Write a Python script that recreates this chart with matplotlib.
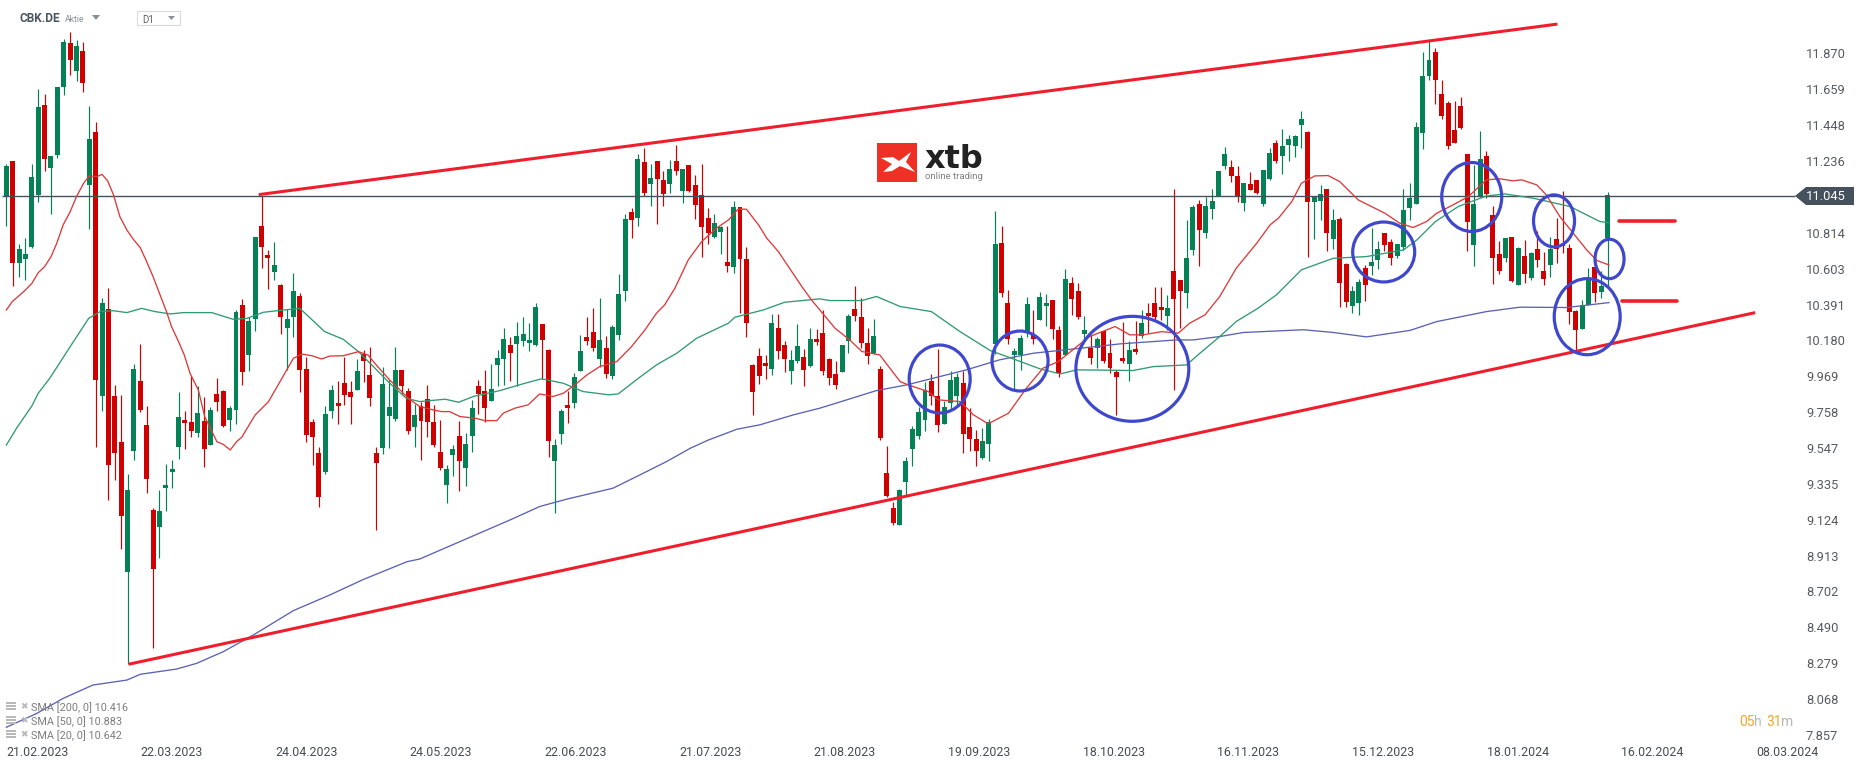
import matplotlib
matplotlib.use('Agg')
import matplotlib.pyplot as plt
from matplotlib.patches import Ellipse, Polygon, Rectangle
import numpy as np

plt.rcParams['font.family'] = ['Roboto', 'DejaVu Sans']

W, H = 1866, 767

# Kerzen
direction = ("GRGGGGRGGG" "RGRGRGRRRG" "GRRRGGGGRR" "GRGRRGGRGG" "RRGRGGRRRR"
             "GGRRRGRRRG" "GGRRGRRRRG" "GRGGRRGGGR" "GGGGRRGGRG" "GRRGRGGGRG"
             "RGRRGRGRRR" "RGGRGRRRRR" "GRRGGRGRRR" "RGGRRRGRRR" "GGGGGRRGGG"
             "RRRGGGRRGG" "GRGGRRGRRG" "RGRRRRGRGR" "RRGRRGGRGG" "GGRRGRRGGR"
             "GGGGRGGRGR" "RGGRGGRRGG" "GGGGRRRRRR" "GGRRRGRGRG" "RRGRRRRGGR" "GG")

high = [11.233, 11.251, 10.762, 10.797, 11.233, 11.675, 11.645, 11.280, 11.687, 11.969,
        12.011, 11.963, 11.952, 11.575, 11.481, 10.444, 10.503, 9.932, 9.873, 9.408,
        10.055, 10.173, 9.808, 9.207, 9.313, 9.466, 9.490, 9.891, 9.779, 9.985,
        9.926, 9.861, 9.802, 9.973, 9.902, 9.808, 10.373, 10.438, 10.332, 10.803,
        11.045, 10.727, 10.774, 10.526, 10.379, 10.591, 10.473, 10.097, 9.731, 9.567,
        9.808, 9.932, 9.955, 10.097, 9.955, 10.085, 10.138, 10.155, 9.567, 10.038,
        9.961, 10.155, 10.020, 9.914, 9.820, 9.834, 9.932, 9.815, 9.726, 9.461,
        9.579, 9.720, 9.650, 9.844, 9.962, 10.021, 10.056, 10.139, 10.268, 10.215,
        10.303, 10.333, 10.298, 10.415, 10.292, 10.144, 9.614, 9.791, 9.897, 10.003,
        10.227, 10.333, 10.386, 10.445, 10.221, 10.286, 10.586, 10.939, 10.975, 11.293,
        11.328, 11.234, 11.252, 11.193, 11.257, 11.346, 11.204, 11.228, 11.169, 11.234,
        10.975, 10.939, 10.869, 10.869, 11.016, 10.981, 10.745, 10.054, 10.150, 10.109,
        10.351, 10.351, 10.192, 10.139, 10.292, 10.144, 10.268, 10.262, 10.374, 10.091,
        10.074, 10.168, 10.351, 10.515, 10.445, 10.268, 10.321, 10.044, 9.573, 9.243,
        9.320, 9.508, 9.691, 9.803, 9.950, 9.997, 10.144, 9.838, 10.015, 10.003,
        10.015, 9.797, 9.667, 9.679, 9.732, 10.957, 10.869, 10.492, 10.150, 10.227,
        10.451, 10.374, 10.480, 10.468, 10.433, 10.280, 10.616, 10.568, 10.533, 10.339,
        10.227, 10.215, 10.250, 10.203, 10.021, 10.303, 10.192, 10.309, 10.374, 10.415,
        10.510, 10.510, 10.462, 11.087, 10.551, 10.904, 10.992, 11.022, 11.040, 11.087,
        11.193, 11.334, 11.258, 11.222, 11.122, 11.187, 11.140, 11.199, 11.328, 11.375,
        11.440, 11.405, 11.405, 11.546, 11.428, 11.040, 11.110, 11.087, 10.969, 10.922,
        10.651, 10.515, 10.557, 10.639, 10.857, 10.780, 10.828, 10.792, 10.763, 11.087,
        11.122, 11.481, 11.894, 11.958, 11.917, 11.729, 11.605, 11.605, 11.629, 11.293,
        11.228, 11.428, 11.311, 10.987, 10.780, 10.798, 10.804, 10.745, 10.786, 10.716,
        10.839, 10.716, 10.804, 10.916, 11.075, 10.763, 10.374, 10.433, 10.621, 10.627,
        10.604, 11.069]

body_top = [11.221, 11.251, 10.733, 10.703, 11.157, 11.569, 11.581, 11.280, 11.687, 11.952,
            11.946, 11.928, 11.899, 11.380, 11.422, 10.415, 10.379, 9.867, 9.596, 9.313,
            10.026, 9.955, 9.696, 9.195, 9.190, 9.343, 9.437, 9.743, 9.726, 9.714,
            9.767, 9.720, 9.784, 9.879, 9.896, 9.796, 10.362, 10.403, 10.309, 10.803,
            10.868, 10.697, 10.638, 10.521, 10.320, 10.485, 10.456, 10.026, 9.714, 9.531,
            9.761, 9.902, 9.826, 9.943, 9.891, 10.014, 10.114, 9.991, 9.531, 9.938,
            9.802, 10.020, 10.020, 9.896, 9.755, 9.809, 9.850, 9.715, 9.538, 9.438,
            9.555, 9.632, 9.585, 9.797, 9.926, 9.897, 9.909, 10.091, 10.203, 10.168,
            10.221, 10.233, 10.197, 10.392, 10.292, 10.139, 9.579, 9.779, 9.815, 9.980,
            10.133, 10.215, 10.245, 10.197, 10.150, 10.274, 10.468, 10.910, 10.951, 11.263,
            11.246, 11.151, 11.252, 11.140, 11.204, 11.252, 11.204, 11.228, 11.110, 11.051,
            10.916, 10.886, 10.863, 10.657, 10.981, 10.981, 10.674, 10.050, 10.103, 10.062,
            10.298, 10.268, 10.168, 10.080, 10.162, 10.097, 10.203, 10.203, 10.239, 10.085,
            9.997, 10.168, 10.339, 10.380, 10.333, 10.180, 10.221, 10.027, 9.414, 9.208,
            9.314, 9.485, 9.673, 9.773, 9.903, 9.956, 9.868, 9.803, 9.962, 9.980,
            9.944, 9.685, 9.614, 9.603, 9.715, 10.763, 10.769, 10.415, 10.133, 10.209,
            10.409, 10.227, 10.451, 10.415, 10.433, 10.256, 10.557, 10.533, 10.486, 10.256,
            10.150, 10.203, 10.250, 10.121, 10.009, 10.091, 10.139, 10.144, 10.298, 10.356,
            10.415, 10.392, 10.386, 10.604, 10.551, 10.680, 10.981, 10.998, 10.987, 11.016,
            11.193, 11.293, 11.216, 11.163, 11.122, 11.116, 11.140, 11.199, 11.299, 11.358,
            11.340, 11.381, 11.399, 11.499, 11.422, 11.040, 11.057, 11.087, 10.904, 10.910,
            10.645, 10.486, 10.539, 10.622, 10.657, 10.733, 10.828, 10.775, 10.763, 10.963,
            11.034, 11.452, 11.752, 11.846, 11.894, 11.646, 11.593, 11.434, 11.576, 11.293,
            10.998, 11.263, 11.281, 10.934, 10.704, 10.798, 10.804, 10.739, 10.692, 10.710,
            10.733, 10.604, 10.733, 10.792, 10.763, 10.739, 10.368, 10.404, 10.557, 10.627,
            10.515, 11.051]

body_bot = [11.041, 10.650, 10.650, 10.674, 10.744, 11.051, 11.263, 11.210, 11.286, 11.687,
            11.846, 11.781, 11.710, 11.110, 9.961, 9.867, 9.461, 9.531, 9.160, 8.830,
            9.543, 9.784, 9.378, 8.848, 9.095, 9.325, 9.419, 9.567, 9.708, 9.661,
            9.649, 9.555, 9.578, 9.832, 9.690, 9.726, 9.784, 10.008, 10.108, 10.320,
            10.744, 10.680, 10.597, 10.332, 10.267, 10.332, 10.020, 9.637, 9.626, 9.272,
            9.419, 9.779, 9.808, 9.873, 9.861, 9.902, 10.073, 9.855, 9.472, 9.561,
            9.749, 9.731, 9.926, 9.661, 9.684, 9.720, 9.715, 9.579, 9.444, 9.344,
            9.520, 9.485, 9.444, 9.632, 9.879, 9.797, 9.838, 10.050, 10.085, 10.121,
            10.174, 10.192, 10.180, 10.168, 10.197, 9.603, 9.485, 9.644, 9.797, 9.826,
            10.015, 10.192, 10.150, 10.085, 9.997, 9.985, 10.227, 10.486, 10.904, 10.916,
            11.063, 11.116, 11.146, 11.057, 11.116, 11.193, 11.075, 11.075, 10.992, 10.863,
            10.828, 10.804, 10.833, 10.633, 10.627, 10.674, 10.298, 9.891, 9.985, 10.044,
            10.027, 10.133, 10.085, 10.015, 10.074, 10.021, 10.044, 10.186, 10.015, 9.974,
            9.932, 10.009, 10.192, 10.339, 10.180, 10.103, 10.121, 9.620, 9.279, 9.120,
            9.108, 9.361, 9.555, 9.632, 9.726, 9.868, 9.697, 9.703, 9.826, 9.868,
            9.644, 9.614, 9.544, 9.503, 9.585, 10.174, 10.474, 10.203, 10.109, 10.109,
            10.245, 10.203, 10.315, 10.398, 10.262, 10.003, 10.109, 10.439, 10.333, 10.233,
            10.091, 10.150, 10.074, 10.033, 9.980, 10.074, 10.056, 10.127, 10.221, 10.339,
            10.333, 10.374, 10.339, 10.439, 10.486, 10.474, 10.727, 10.845, 10.828, 10.969,
            11.045, 11.222, 11.163, 11.045, 11.004, 11.081, 11.063, 10.998, 11.146, 11.252,
            11.281, 11.346, 11.340, 11.464, 11.010, 11.010, 11.016, 10.828, 10.792, 10.533,
            10.421, 10.398, 10.415, 10.521, 10.633, 10.669, 10.757, 10.680, 10.692, 10.745,
            10.975, 10.998, 11.417, 11.752, 11.729, 11.517, 11.340, 11.358, 11.446, 10.892,
            10.757, 11.040, 11.057, 10.680, 10.604, 10.680, 10.545, 10.521, 10.586, 10.563,
            10.669, 10.557, 10.639, 10.733, 10.751, 10.362, 10.256, 10.262, 10.404, 10.474,
            10.480, 10.798]

low = [10.868, 10.515, 10.570, 10.550, 10.739, 11.009, 11.192, 10.939, 11.269, 11.640,
       11.757, 11.722, 11.657, 10.850, 9.569, 9.779, 9.254, 9.372, 8.966, 8.289,
       9.490, 9.773, 9.296, 8.383, 8.913, 9.190, 9.325, 9.496, 9.555, 9.626,
       9.626, 9.449, 9.578, 9.779, 9.684, 9.661, 9.702, 9.932, 10.014, 10.250,
       10.621, 10.497, 10.550, 10.232, 10.020, 10.214, 9.891, 9.596, 9.461, 9.213,
       9.408, 9.737, 9.702, 9.814, 9.702, 9.902, 9.949, 9.808, 9.078, 9.525,
       9.561, 9.720, 9.879, 9.643, 9.567, 9.491, 9.626, 9.567, 9.432, 9.237,
       9.397, 9.308, 9.338, 9.538, 9.762, 9.715, 9.838, 9.926, 9.932, 9.956,
       9.926, 10.162, 10.133, 10.162, 9.968, 9.508, 9.179, 9.585, 9.709, 9.797,
       10.015, 10.168, 10.133, 10.038, 9.974, 9.968, 10.197, 10.427, 10.798, 10.869,
       11.045, 10.987, 10.881, 10.987, 11.063, 11.169, 11.004, 11.069, 10.910, 10.686,
       10.763, 10.798, 10.704, 10.598, 10.592, 10.356, 10.215, 9.756, 9.938, 9.968,
       9.991, 10.085, 10.009, 9.938, 10.062, 9.926, 10.038, 10.168, 9.991, 9.932,
       9.909, 10.009, 10.121, 10.309, 10.150, 10.056, 10.115, 9.609, 9.273, 9.108,
       9.108, 9.285, 9.455, 9.614, 9.662, 9.815, 9.656, 9.703, 9.791, 9.815,
       9.532, 9.544, 9.455, 9.497, 9.485, 10.115, 10.451, 10.174, 9.903, 10.021,
       10.215, 10.174, 10.315, 10.280, 10.203, 9.980, 10.109, 10.345, 10.321, 10.197,
       10.056, 10.033, 10.062, 10.003, 9.756, 10.062, 9.956, 10.115, 10.209, 10.239,
       10.315, 10.315, 10.256, 9.903, 10.268, 10.386, 10.698, 10.633, 10.798, 10.910,
       11.045, 11.205, 11.128, 11.010, 10.957, 11.081, 11.057, 10.987, 11.140, 11.240,
       11.175, 11.252, 11.275, 11.328, 10.686, 10.792, 10.904, 10.722, 10.733, 10.392,
       10.392, 10.356, 10.345, 10.427, 10.580, 10.616, 10.722, 10.639, 10.680, 10.727,
       10.904, 10.998, 11.322, 11.729, 11.587, 11.499, 11.322, 11.358, 11.440, 10.722,
       10.633, 11.040, 11.034, 10.527, 10.586, 10.657, 10.539, 10.521, 10.533, 10.551,
       10.627, 10.521, 10.568, 10.651, 10.710, 10.292, 10.133, 10.262, 10.404, 10.421,
       10.445, 10.510]

# SMA-Linien: Stuetzstellen (Kerzenindex, Kurs)
sma20_x = [0, 0.9, 2.7, 4, 5, 6, 7, 7.9, 8.9, 10, 11, 12.1, 13, 14.2, 15, 15.9, 16.8, 17.8, 18.9, 19.9,
           21, 22, 23, 24.1, 25.1, 25.9, 27, 27.9, 28.8, 30.1, 31.1, 33, 34, 35.1, 36.1, 36.9, 37.9, 39,
           41.1, 43.2, 45, 46.3, 47.9, 49.4, 50.7, 52.8, 55.2, 56.7, 58, 60.1, 62, 63, 64.8, 66.9, 68.2,
           69.5, 71.1, 73.5, 75, 76.9, 77.9, 79.7, 81.8, 83.6, 85.7, 87.3, 89.1, 91, 93, 95.7, 98, 100.1,
           101.9, 103.2, 104.8, 106.9, 109, 111.3, 113.2, 114.7, 116, 117.9, 119.2, 121, 123.1, 124.7,
           126.2, 127.5, 129.9, 132.2, 134.1, 136.9, 138.5, 140.1, 141.4, 144.5, 146.1, 149.5, 151.6,
           153.9, 157.1, 159.9, 162.5, 164.9, 167.8, 169.8, 173.8, 176.1, 178.2, 181.1, 183.7, 185.5,
           187.9, 190.2, 192.8, 196, 198.1, 199.4, 201.5, 203, 205.1, 207.2, 209, 211.9, 216.1, 218.4,
           220.5, 222.6, 224.2, 226.8, 229.2, 232, 234.1, 236.2, 237.5, 239.9, 241.4, 243.5, 245.6,
           247.7, 249.3, 251.2]
sma20_y = [10.373, 10.422, 10.481, 10.530, 10.593, 10.629, 10.687, 10.766, 10.874, 10.952, 11.041, 11.119,
           11.163, 11.159, 11.172, 11.133, 11.051, 10.923, 10.844, 10.790, 10.740, 10.658, 10.570, 10.462,
           10.364, 10.275, 10.187, 10.108, 10.000, 9.902, 9.745, 9.598, 9.582, 9.549, 9.598, 9.624, 9.686,
           9.755, 9.834, 9.971, 10.089, 10.114, 10.104, 10.085, 10.102, 10.104, 10.128, 10.108, 10.049,
           9.961, 9.892, 9.853, 9.805, 9.785, 9.775, 9.775, 9.746, 9.736, 9.722, 9.722, 9.766, 9.795, 9.815,
           9.879, 9.864, 9.883, 9.932, 9.991, 10.040, 10.070, 10.158, 10.256, 10.354, 10.404, 10.502, 10.669,
           10.776, 10.855, 10.904, 10.967, 10.967, 10.875, 10.796, 10.718, 10.600, 10.511, 10.433, 10.374,
           10.266, 10.197, 10.129, 10.109, 10.031, 9.952, 9.932, 9.893, 9.844, 9.834, 9.756, 9.703, 9.766,
           9.913, 10.031, 10.070, 10.158, 10.217, 10.276, 10.227, 10.227, 10.246, 10.237, 10.296, 10.345,
           10.453, 10.620, 10.767, 10.875, 10.914, 11.012, 11.120, 11.163, 11.165, 11.130, 11.022, 10.943,
           10.885, 10.859, 10.894, 10.943, 10.993, 11.042, 11.140, 11.146, 11.134, 11.140, 11.110, 11.051,
           10.924, 10.826, 10.728, 10.665, 10.639]

sma50_x = [0, 1.6, 4, 5, 6.8, 10, 12.9, 14.7, 16.8, 18.9, 21.2, 23.3, 25.7, 27.7, 32.2, 35.6, 37.7, 40.3,
           42.4, 46, 49.9, 52.8, 55.2, 57.8, 60.1, 62.7, 64.8, 68.8, 70.9, 73.2, 77.4, 81.3, 83.9, 87.3,
           90.4, 94.4, 95.9, 99.1, 101.9, 105.1, 108.2, 113.2, 114.2, 118.7, 122, 127.5, 129.1, 134.1,
           136.4, 140.1, 145, 149.5, 154.2, 157.8, 162, 165.2, 167.8, 176.6, 179.8, 185, 187.1, 190.2,
           192.8, 196.2, 199.1, 203, 208, 213.2, 219, 221.1, 224, 227.6, 232, 234.9, 239.3, 245.1, 249.8,
           251.2]
sma50_y = [9.578, 9.677, 9.808, 9.883, 9.971, 10.157, 10.324, 10.364, 10.369, 10.358, 10.383, 10.364,
           10.350, 10.358, 10.358, 10.318, 10.324, 10.360, 10.369, 10.383, 10.246, 10.201, 10.128, 10.030,
           9.942, 9.853, 9.834, 9.848, 9.830, 9.864, 9.899, 9.942, 9.968, 9.942, 9.893, 9.874, 9.879, 9.972,
           10.050, 10.119, 10.207, 10.296, 10.331, 10.374, 10.419, 10.439, 10.429, 10.429, 10.453, 10.394,
           10.364, 10.246, 10.135, 10.086, 10.027, 9.997, 10.021, 10.017, 10.040, 10.050, 10.119, 10.217,
           10.306, 10.384, 10.463, 10.610, 10.678, 10.688, 10.727, 10.786, 10.894, 10.983, 11.045, 11.057,
           11.032, 10.983, 10.894, 10.888]

sma200_x = [0, 4.8, 8.9, 13.6, 18.9, 21, 26.7, 29.8, 34, 38.7, 45, 50.7, 56, 62.8, 64.8, 79.2, 83.6, 87.8,
            95.1, 99.3, 103.5, 107.2, 110, 114.5, 118.1, 123.4, 127.5, 131.2, 136.4, 141.1, 150.5, 155.7,
            161, 168.3, 174.6, 183.4, 186, 190.2, 193.9, 203.3, 208, 213.2, 220, 224.2, 232, 237.3, 244.6,
            251.2]
sma200_y = [7.916, 7.998, 8.086, 8.165, 8.194, 8.228, 8.259, 8.292, 8.361, 8.459, 8.603, 8.695, 8.787, 8.891,
            8.907, 9.141, 9.216, 9.259, 9.324, 9.402, 9.481, 9.559, 9.607, 9.671, 9.697, 9.756, 9.795, 9.838,
            9.899, 9.932, 10.021, 10.080, 10.119, 10.148, 10.174, 10.197, 10.197, 10.217, 10.241, 10.257,
            10.241, 10.215, 10.253, 10.305, 10.364, 10.390, 10.388, 10.417]

# Zeichnungen im Chart
trend_top_x, trend_top_y = [39.8, 242.9], [11.054, 12.056]
trend_bot_x, trend_bot_y = [19.4, 273.9], [8.289, 10.356]
level_x = [[252.8, 261.5], [253.2, 261.9]]
level_y = [10.898, 10.427]
circle_x = [146.3, 158.9, 176.5, 215.9, 229.7, 242.6, 247.8, 251.3]
circle_y = [9.967, 10.073, 10.027, 10.715, 11.039, 10.898, 10.334, 10.674]
circle_w = [9.56, 8.78, 17.7, 9.72, 9.4, 6.43, 10.34, 4.55]
circle_h = [0.400, 0.353, 0.618, 0.353, 0.406, 0.306, 0.448, 0.232]

# Achsenbeschriftung
price_ticks = [11.870, 11.659, 11.448, 11.236, 10.814, 10.603, 10.391, 10.180, 9.969, 9.758,
               9.547, 9.335, 9.124, 8.913, 8.702, 8.490, 8.279, 8.068, 7.857]
date_labels = ['21.02.2023', '22.03.2023', '24.04.2023', '24.05.2023', '22.06.2023', '21.07.2023',
               '21.08.2023', '19.09.2023', '18.10.2023', '16.11.2023', '15.12.2023', '18.01.2024',
               '16.02.2024', '08.03.2024']
legend_labels = ['SMA [200, 0] 10.416', 'SMA [50, 0] 10.883', 'SMA [20, 0] 10.642']
last_price = 11.045

GREEN, RED = '#058156', '#cf0000'

fig = plt.figure(figsize=(W / 100, H / 100), dpi=100, facecolor='white')
ax = fig.add_axes([0, 0, 1, 1])
ax.set_xlim(-0.992, 291.5)
ax.set_ylim(7.682, 12.199)
ax.axis('off')

idx = np.arange(len(high))
cols = [GREEN if d == 'G' else RED for d in direction]
ax.vlines(idx, low, high, colors=cols, linewidth=0.85, zorder=2)
ax.bar(idx, np.array(body_top) - np.array(body_bot), bottom=body_bot, width=0.78,
       color=cols, linewidth=0, zorder=3)

ax.hlines(last_price, -0.7, 280.3, color='#45525e', linewidth=1.0, zorder=4)

ax.plot(sma200_x, sma200_y, color='#5a62b5', linewidth=0.95, zorder=5)
ax.plot(sma50_x, sma50_y, color='#2f9a75', linewidth=0.95, zorder=5)
ax.plot(sma20_x, sma20_y, color='#dc3a3a', linewidth=0.95, zorder=5)

ax.plot(trend_top_x, trend_top_y, color='#f01e2c', linewidth=2.2, zorder=6)
ax.plot(trend_bot_x, trend_bot_y, color='#f01e2c', linewidth=2.2, zorder=6)
for xs, y in zip(level_x, level_y):
    ax.plot(xs, [y, y], color='#f01e2c', linewidth=2.6, solid_capstyle='round', zorder=6)

for x, y, w, h in zip(circle_x, circle_y, circle_w, circle_h):
    ax.add_patch(Ellipse((x, y), w, h, fill=False, edgecolor='#3f48cc', linewidth=2.3, zorder=7))


def fx(x):
    return x / W


def fy(y):
    return 1 - y / H


def add_poly(pts, color):
    fig.add_artist(Polygon([(fx(a), fy(b)) for a, b in pts], closed=True, facecolor=color,
                           edgecolor='none', transform=fig.transFigure))


def price_y(p):
    return 196 + (last_price - p) * 169.8


# Preisachse
for p in price_ticks:
    fig.text(fx(1806), fy(price_y(p) - 1), f'{p:.3f}', fontsize=9.3, color='#555b61', va='center', ha='left')
add_poly([(1795, 196), (1806, 187), (1854, 187), (1854, 205), (1806, 205)], '#45525e')
fig.text(fx(1806), fy(196), f'{last_price:.3f}', fontsize=9.3, color='white', va='center', ha='left')

# Datumsachse
for i, lab in enumerate(date_labels):
    fig.text(fx(6 + i * 134.6), fy(752), lab, fontsize=8.9, color='#474d53', va='center', ha='left')

# Kopfzeile
fig.text(fx(20), fy(19), 'CBK.DE', fontsize=8.6, fontweight='bold', color='#4a5560', va='center', ha='left')
fig.text(fx(65), fy(19.5), 'Aktie', fontsize=6.2, color='#8a9096', va='center', ha='left')
add_poly([(92, 15), (100, 15), (96, 20)], '#8a9096')
fig.add_artist(Rectangle((fx(136.5), fy(25)), 43 / W, 14 / H, transform=fig.transFigure, fill=False,
                         edgecolor='#d8dadc', linewidth=0.8))
fig.text(fx(142), fy(20), 'D1', fontsize=7, color='#5a6068', va='center', ha='left')
add_poly([(168, 16), (175, 16), (171.5, 20)], '#8a9096')

# Legende
for n, lab in enumerate(legend_labels):
    y = 708 + n * 14
    for k in range(3):
        fig.add_artist(Rectangle((fx(6), fy(y - 4.5 + k * 3.2)), 10 / W, 1.6 / H, transform=fig.transFigure,
                                 facecolor='#b9b9b9', edgecolor='none'))
    fig.text(fx(23.5), fy(y - 1), '\u2716', fontsize=6.5, color='#b9b9b9', va='center', ha='center',
             family='DejaVu Sans')
    fig.text(fx(31), fy(y), lab, fontsize=7.8, color='#7d7d7d', va='center', ha='left')

# Logo
fig.add_artist(Rectangle((fx(877), fy(182)), 40 / W, 39 / H, transform=fig.transFigure,
                         facecolor='#ee3124', edgecolor='none'))
add_poly([(881, 158), (893, 157), (899, 161), (911, 152), (906, 162), (915, 172), (900, 166),
          (892, 171), (883, 172), (892, 164)], 'white')
fig.text(fx(925), fy(168.5), 'xtb', fontsize=23, fontweight='bold', color='#222222', va='baseline', ha='left',
         family='DejaVu Sans')
fig.text(fx(925), fy(176.5), 'online trading', fontsize=6.8, color='#808080', va='center', ha='left')

# Countdown
cx = 1739
for part, col, wd in [('05', '#f5a623', 15), ('h', '#b9b9b9', 12), ('31', '#f5a623', 15), ('m', '#b9b9b9', 12)]:
    fig.text(fx(cx), fy(722), part, fontsize=10, color=col, va='center', ha='left')
    cx += wd

fig.savefig('out.png', dpi=100, facecolor='white')
